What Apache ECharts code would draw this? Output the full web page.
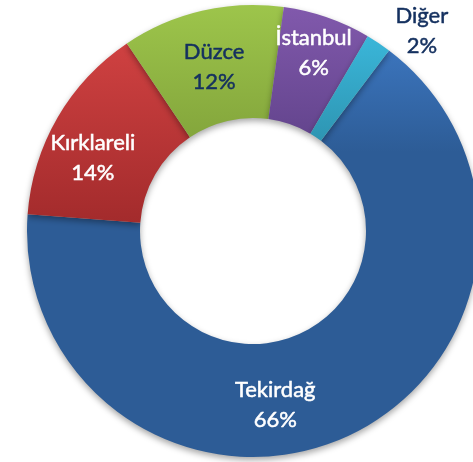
<!DOCTYPE html>
<html>
<head>
<meta charset="utf-8">
<script src="https://cdn.jsdelivr.net/npm/echarts@6/dist/echarts.min.js"></script>
<style>
  html, body { margin: 0; padding: 0; background: #fff; }
  #chart { width: 473px; height: 462px; }
</style>
</head>
<body>
<div id="chart"></div>
<script>
// veri
var cities = ['Tekirdağ', 'Kırklareli', 'Düzce', 'İstanbul', 'Diğer'];
var shares = [65.9, 14.4, 11.6, 6.3, 1.8];

// renkler (üst / alt)
var topColors = ['#3B74BC', '#CF4141', '#9DC54B', '#8159AC', '#3AB6D9'];
var bottomColors = ['#2D5C96', '#A32B2C', '#84A63C', '#64458E', '#2E95B2'];
var labelColors = ['#ffffff', '#ffffff', '#14305F', '#ffffff', '#14305F'];
// etiket kaydırma (inside konumuna göre)
var labelShift = [[-49, 17], [-11, 14], [0, 4], [4, -15], [73, -57]];

var chart = echarts.init(document.getElementById('chart'));

var items = cities.map(function (name, i) {
    return {
        name: name,
        value: shares[i],
        itemStyle: {
            color: {
                type: 'linear', x: 0, y: 0, x2: 0, y2: 1,
                colorStops: [
                    { offset: 0, color: topColors[i] },
                    { offset: i == 0 ? 0.25 : 1, color: bottomColors[i] },
                    { offset: 1, color: bottomColors[i] }
                ]
            }
        },
        label: { color: labelColors[i], textBorderColor: labelColors[i] }
    };
});

chart.setOption({
    animation: false,
    series: [{
        type: 'pie',
        center: [253, 231],
        radius: [113, 226],
        startAngle: 53,
        clockwise: true,
        percentPrecision: 0,
        avoidLabelOverlap: false,
        itemStyle: {
            borderWidth: 0,
            shadowBlur: 6,
            shadowOffsetY: 3,
            shadowColor: 'rgba(0,0,0,0.35)'
        },
        label: {
            show: true,
            position: 'inside',
            formatter: '{b}\n{d}%',
            fontFamily: 'Lato',
            fontSize: 22,
            lineHeight: 30,
            textBorderWidth: 0.5,
            align: 'center'
        },
        labelLine: { show: false },
        labelLayout: function (params) {
            var s = labelShift[params.dataIndex];
            return { dx: s[0], dy: s[1] };
        },
        emphasis: { disabled: true },
        data: items
    }]
});
</script>
</body>
</html>
